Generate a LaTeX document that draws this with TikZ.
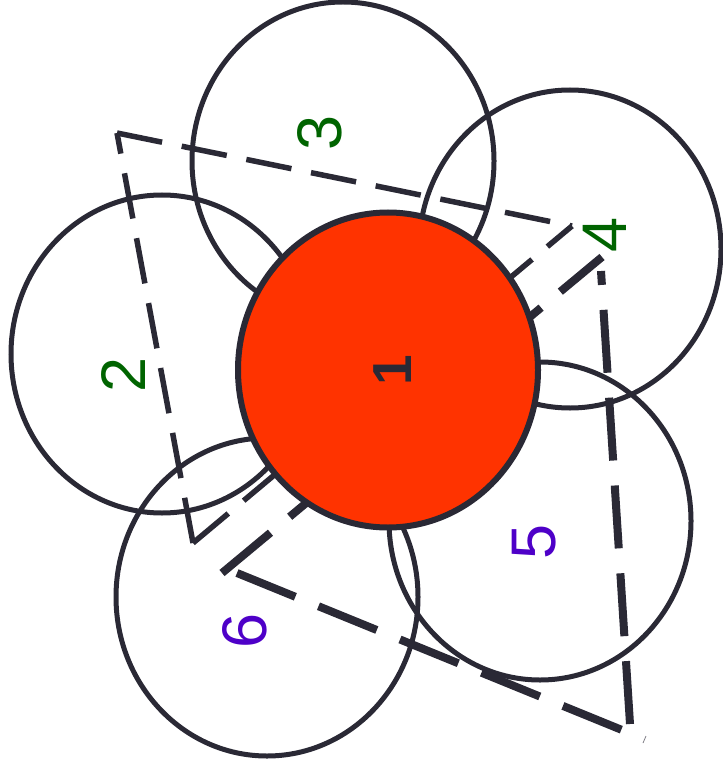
\documentclass[tikz,border=0pt]{standalone}
\usepackage{fontspec}
\setmainfont{Liberation Sans}
\usetikzlibrary{shapes.geometric}
\definecolor{ink}{HTML}{2A2935}
\definecolor{redfill}{HTML}{FF3300}
\definecolor{lgreen}{HTML}{006400}
\definecolor{lpurple}{HTML}{4E00C8}
\begin{document}
\begin{tikzpicture}[x=1pt,y=-1pt,
  ring/.style={ellipse,draw=ink,line width=5pt,inner sep=0pt,minimum width=302pt,minimum height=318pt},
  triA/.style={draw=ink,line width=5.5pt,dash pattern=on 46pt off 20pt},
  triB/.style={draw=ink,line width=8pt,dash pattern=on 63pt off 25pt},
  lbl/.style={font=\fontsize{63}{63}\selectfont,rotate=90,inner sep=0pt}]
\useasboundingbox (0,0) rectangle (722,767);
% white rings
\node[ring] (c2) at (162,354) {};
\node[ring] (c3) at (343,161) {};
\node[ring] (c4) at (570,249) {};
\node[ring] (c5) at (540,521) {};
\node[ring] (c6) at (267,597) {};
% dashed triangle A
\coordinate (a1) at (117,133);
\coordinate (a2) at (572,226);
\coordinate (a3) at (193,543);
\draw[triA] (a1) -- (a2);
\draw[triA] (a3) -- (a2);
\draw[triA] (a3) -- (a1);
% dashed triangle B
\coordinate (b1) at (222,573);
\coordinate (b2) at (602,257);
\coordinate (b3) at (237,573);
\coordinate (b4) at (622,730);
\coordinate (b5) at (630,724);
\coordinate (b6) at (601,271);
\draw[triB] (b1) -- (b2);
\draw[triB] (b3) -- (b4);
\draw[triB] (b5) -- (b6);
% tiny mark
\coordinate (m1) at (643,743);
\coordinate (m2) at (646,736);
\draw[ink!60,line width=0.8pt] (m1) -- (m2);
% red centre
\node[ellipse,draw=ink,line width=6pt,fill=redfill,inner sep=0pt,minimum width=300pt,minimum height=315pt] (c1) at (388,370) {};
% labels
\node[lbl,text=ink,font=\fontsize{55}{55}\selectfont\bfseries] (t1) at (393,370) {1};
\node[lbl,text=lgreen] (t2) at (124,375) {2};
\node[lbl,text=lgreen] (t3) at (320,133) {3};
\node[lbl,text=lgreen] (t4) at (605,235) {4};
\node[lbl,text=lpurple] (t5) at (534,542) {5};
\node[lbl,text=lpurple] (t6) at (245,631) {6};
\end{tikzpicture}
\end{document}
